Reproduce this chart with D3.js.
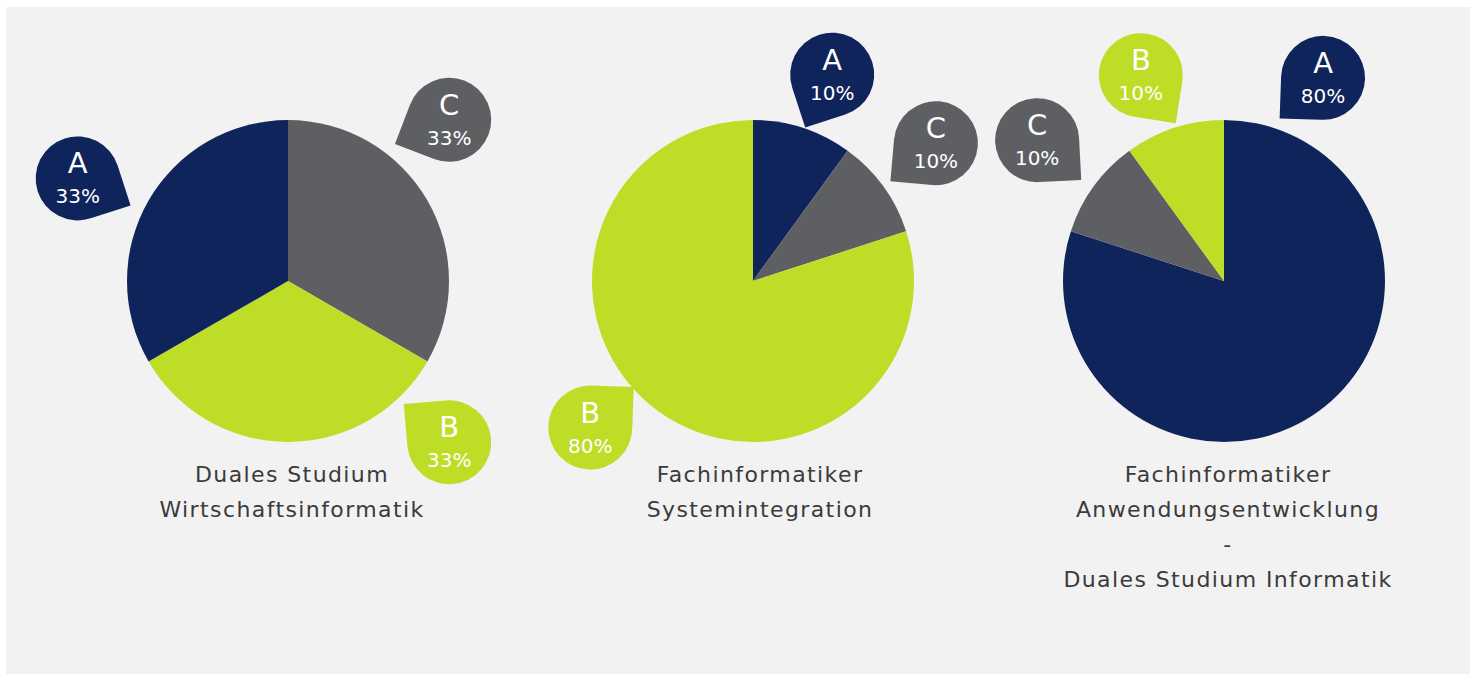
<!DOCTYPE html>
<html>
<head>
<meta charset="utf-8">
<script src="https://cdn.jsdelivr.net/npm/d3@7"></script>
<style>
  html, body { margin: 0; padding: 0; background: #ffffff; }
  svg { display: block; }
  .title { font-family: "DejaVu Sans", sans-serif; font-size: 22px; letter-spacing: 1.4px; fill: #3b3b3b; }
  .bubble-text { font-family: "DejaVu Sans", sans-serif; fill: #ffffff; }
</style>
</head>
<body>
<div id="chart"></div>
<script>
// chart data
const charts = ["Wirtschaftsinformatik", "Systemintegration", "Anwendungsentwicklung"];
const chartTitles = [
    ["Duales Studium", "Wirtschaftsinformatik"],
    ["Fachinformatiker", "Systemintegration"],
    ["Fachinformatiker", "Anwendungsentwicklung", "-", "Duales Studium Informatik"]
];
// slice order as drawn clockwise from 12 o'clock
const sliceCategories = [
    ["C", "B", "A"],
    ["A", "C", "B"],
    ["A", "C", "B"]
];
const sliceValues = [
    [33, 33, 33],
    [10, 10, 80],
    [80, 10, 10]
];

const colors = {A: "#10245c", B: "#bedd27", C: "#5e5f63"};

// where the drop shaped labels sit: angle/distance from pie center, tip direction (deg)
const bubbleLayout = [
    {A: {a: 296, d: 234, tip: 27}, C: {a: 45, d: 228, tip: 156}, B: {a: 135, d: 228, tip: 220}},
    {A: {a: 21, d: 221, tip: 117}, C: {a: 53, d: 229, tip: 140}, B: {a: 228, d: 219, tip: 317}},
    {A: {a: 26, d: 226, tip: 137}, C: {a: 307, d: 234, tip: 42}, B: {a: 338, d: 222, tip: 54}}
];

const width = 1470, height = 674;
const radius = 161, bubbleR = 42;

const svg = d3.select("#chart").append("svg")
    .attr("width", width)
    .attr("height", height);

// grey panel
svg.append("rect")
    .attr("x", 6)
    .attr("y", 7)
    .attr("width", width - 6)
    .attr("height", height - 7)
    .attr("fill", "#f2f2f2");

const x = d3.scalePoint()
    .domain(charts)
    .range([288, 1224]);

const cy = 281;

const pie = d3.pie().sort(null).value(d => d.value);
const arc = d3.arc().innerRadius(0).outerRadius(radius);

// drop shape, tip at local (r, r) i.e. 45deg
const dropPath = r => `M${r},0 L${r},${r} L0,${r} A${r},${r} 0 1 1 ${r},0 Z`;

charts.forEach((name, i) => {
    let data = sliceCategories[i].map((c, j) => ({cat: c, value: sliceValues[i][j]}));
    let total = d3.sum(data, d => d.value);

    // middle pie sits a little left of the even spacing
    let cx = i === 1 ? x(name) - 3 : x(name);

    let g = svg.append("g")
        .attr("class", "pie")
        .attr("transform", `translate(${cx}, ${cy})`);

    g.selectAll("path.slice")
        .data(pie(data))
        .enter()
        .append("path")
        .attr("class", "slice")
        .attr("d", arc)
        .attr("fill", d => colors[d.data.cat]);

    // labels
    let bubbles = g.selectAll("g.bubble")
        .data(data)
        .enter()
        .append("g")
        .attr("class", "bubble")
        .attr("transform", d => {
            let l = bubbleLayout[i][d.cat];
            let p = d3.pointRadial(l.a * Math.PI / 180, l.d);
            return `translate(${p[0]}, ${p[1]})`;
        });

    bubbles.append("path")
        .attr("d", dropPath(bubbleR))
        .attr("transform", d => `rotate(${bubbleLayout[i][d.cat].tip - 45})`)
        .attr("fill", d => colors[d.cat]);

    bubbles.append("text")
        .attr("class", "bubble-text")
        .attr("text-anchor", "middle")
        .attr("y", -5)
        .style("font-size", "29px")
        .text(d => d.cat);

    bubbles.append("text")
        .attr("class", "bubble-text")
        .attr("text-anchor", "middle")
        .attr("y", 25)
        .style("font-size", "20px")
        .text(d => Math.round(d.value / total * 100) === 33 ? "33%" : Math.round(d.value) + "%");

    // title under the pie
    svg.append("text")
        .attr("class", "title")
        .attr("text-anchor", "middle")
        .attr("transform", `translate(${x(name) + 4}, ${cy + 201})`)
        .selectAll("tspan")
        .data(chartTitles[i])
        .enter()
        .append("tspan")
        .attr("x", 0)
        .attr("dy", (d, k) => k === 0 ? 0 : 35)
        .text(d => d);
});
</script>
</body>
</html>
